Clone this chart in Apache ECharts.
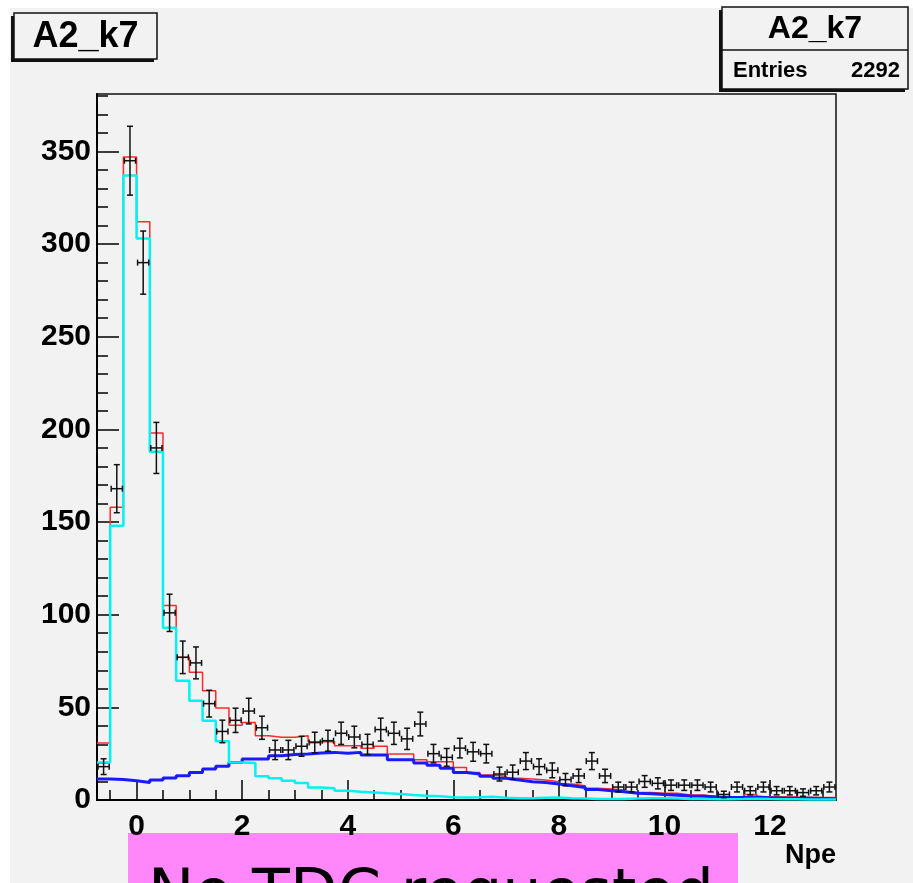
<!DOCTYPE html>
<html><head><meta charset="utf-8">
<script src="https://cdn.jsdelivr.net/npm/echarts@6/dist/echarts.min.js"></script>
<style>html,body{margin:0;padding:0;background:#fff}#c{width:913px;height:883px}</style>
</head><body><div id="c"></div>
<script>
// Bin centers (Npe), bin width 0.25
const binCenters = [-0.625,-0.375,-0.125,0.125,0.375,0.625,0.875,1.125,1.375,1.625,1.875,2.125,2.375,2.625,2.875,3.125,3.375,3.625,3.875,4.125,4.375,4.625,4.875,5.125,5.375,5.625,5.875,6.125,6.375,6.625,6.875,7.125,7.375,7.625,7.875,8.125,8.375,8.625,8.875,9.125,9.375,9.625,9.875,10.125,10.375,10.625,10.875,11.125,11.375,11.625,11.875,12.125,12.375,12.625,12.875,13.125];
// Measured entries per bin (black points)
const dataCounts = [18,168,345,290,190,101,77,74,52,37,43,48,39,27,27,29,31,32,36,34,30,38,36,33,41,25,23,28,26,25,14,15,21,18,16,11,13,21,13,7,7,10,9,8,8,8,7,3,7,5,7,5,5,4,5,7];
// Total fit (red)
const totalFit = [30.7,158,347,312,198,105,77,69,59,49.6,40.3,41.8,34.7,33.8,33.8,34.7,31.5,31.5,29.3,29.3,27.9,29,24.8,24.8,21.7,20.6,20.6,17.6,14.9,13.5,12.8,11.7,11.3,10.8,9.9,8.6,7.7,6.3,5.9,5.4,4.1,4.1,3.6,3.6,2.7,2.7,1.8,1.8,1.8,3.0,1.8,1.8,1.6,1.5,1.4,1.3];
// Pedestal / single component (cyan)
const peakFit = [20.3,148,337,303,188,93,64.4,53.6,42.8,31.7,20.3,20,12.8,11.7,10.4,9.2,6.8,6.3,5,4.5,4.1,3.6,3.2,2.7,2.3,2,1.5,1.4,1.5,1.8,1.2,1,1,1.2,1.4,1,0.8,0.6,0.5,0.6,0.8,1,1,0.8,0.6,0.5,0.4,0.4,0.5,0.7,0.5,0.4,0.4,0.3,0.3,0.3];
// Broad component (blue)
const broadFit = [11.3,11,10.4,9.5,10.8,11.9,13.1,14.9,16.7,18.2,20.3,22.1,22.1,23.9,24.5,24.8,25.3,25.7,25.2,25.7,24.3,24.3,21.7,21.7,20,18.7,17.1,14.9,14,12.8,11.7,10.8,9.9,9.5,8.6,7.7,6.8,5.6,5,4.5,3.6,3.4,3,2.5,2.2,2,1.6,1.4,1.3,1.6,1.2,1,1,0.9,0.8,0.7];

const xTickValues = [0,2,4,6,8,10,12];
const xMinorTickValues = [-0.5,0.5,1,1.5,2.5,3,3.5,4.5,5,5.5,6.5,7,7.5,8.5,9,9.5,10.5,11,11.5,12.5,13];
const yTickValues = [0,50,100,150,200,250,300,350];
const yMinorTickValues = [10,20,30,40,60,70,80,90,110,120,130,140,160,170,180,190,210,220,230,240,260,270,280,290,310,320,330,340,360,370,380];
const xRange = [-0.75, 13.25];
const yRange = [0, 381];

const halfW = (binCenters[1] - binCenters[0]) / 2;
function stepData(vals) {
  const out = vals.map((v, i) => [binCenters[i] - halfW, v]);
  out.push([binCenters[binCenters.length - 1] + halfW, vals[vals.length - 1]]);
  return out;
}
const pointData = dataCounts.map((v, i) => [binCenters[i], v, Math.sqrt(v)]);

const FONT = 'Liberation Sans';
const chart = echarts.init(document.getElementById('c'), null, {renderer: 'canvas'});
const lblStyle = {color: '#000', fontFamily: FONT, fontWeight: 'bold', fontSize: 30};

chart.setOption({
  animation: false,
  backgroundColor: '#f2f2f2',
  grid: {left: 97, top: 94, width: 739, height: 706, show: true, borderColor: '#111', borderWidth: 1.5, backgroundColor: 'transparent'},
  xAxis: [{
    type: 'value', min: xRange[0], max: xRange[1], position: 'bottom',
    axisLine: {show: true, onZero: false, lineStyle: {color: '#000', width: 2}},
    axisTick: {show: true, inside: true, length: 20, customValues: xTickValues, lineStyle: {color: '#000', width: 1.5}},
    axisLabel: Object.assign({show: true, customValues: xTickValues, margin: 12}, lblStyle),
    splitLine: {show: false}
  }, {
    type: 'value', min: xRange[0], max: xRange[1], position: 'bottom', offset: 0,
    axisLine: {show: false, onZero: false},
    axisTick: {show: true, inside: true, length: 10, customValues: xMinorTickValues, lineStyle: {color: '#000', width: 1.5}},
    axisLabel: {show: false}, splitLine: {show: false}
  }],
  yAxis: [{
    type: 'value', min: yRange[0], max: yRange[1], position: 'left',
    axisLine: {show: true, onZero: false, lineStyle: {color: '#000', width: 2}},
    axisTick: {show: true, inside: true, length: 22, customValues: yTickValues, lineStyle: {color: '#000', width: 1.5}},
    axisLabel: Object.assign({show: true, customValues: yTickValues, margin: 6}, lblStyle),
    splitLine: {show: false}
  }, {
    type: 'value', min: yRange[0], max: yRange[1], position: 'left', offset: 0,
    axisLine: {show: false, onZero: false},
    axisTick: {show: true, inside: true, length: 11, customValues: yMinorTickValues, lineStyle: {color: '#000', width: 1.5}},
    axisLabel: {show: false}, splitLine: {show: false}
  }],
  series: [
    {type: 'line', name: 'total', step: 'end', data: stepData(totalFit), showSymbol: false, symbol: 'none',
     lineStyle: {color: '#ff2a2a', width: 1.5}, z: 3, clip: true},
    {type: 'line', name: 'broad', step: 'end', data: stepData(broadFit), showSymbol: false, symbol: 'none',
     lineStyle: {color: '#1a1aff', width: 3}, z: 4, clip: true},
    {type: 'line', name: 'peak', step: 'end', data: stepData(peakFit), showSymbol: false, symbol: 'none',
     lineStyle: {color: '#00f2f2', width: 2.5}, z: 5, clip: true},
    {type: 'custom', name: 'data', data: pointData, z: 6, clip: true,
     renderItem: function (params, api) {
       const x = api.value(0), y = api.value(1), e = api.value(2);
       const c = api.coord([x, y]);
       const t = api.coord([x, y + e]);
       const b = api.coord([x, Math.max(y - e, 0)]);
       const l = api.coord([x - halfW, y]);
       const r = api.coord([x + halfW, y]);
       const st = {stroke: '#111', lineWidth: 1.5, fill: null};
       const line = (x1, y1, x2, y2) => ({type: 'line', shape: {x1, y1, x2, y2}, style: st});
       return {type: 'group', children: [
         line(c[0], t[1], c[0], b[1]),
         line(c[0] - 3, t[1], c[0] + 3, t[1]),
         line(c[0] - 3, b[1], c[0] + 3, b[1]),
         line(l[0] + 1, c[1], r[0] - 1, c[1]),
         line(l[0] + 1, c[1] - 3, l[0] + 1, c[1] + 3),
         line(r[0] - 1, c[1] - 3, r[0] - 1, c[1] + 3)
       ]};
     }}
  ],
  graphic: {elements: [
    {type: 'rect', shape: {x: 0, y: 0, width: 913, height: 8}, style: {fill: '#fff'}, silent: true},
    {type: 'rect', shape: {x: 0, y: 0, width: 10, height: 883}, style: {fill: '#fff'}, silent: true},
    // left title box
    {type: 'rect', shape: {x: 11, y: 16, width: 143, height: 46}, style: {fill: '#111'}, silent: true},
    {type: 'rect', shape: {x: 14, y: 13, width: 143, height: 46}, style: {fill: '#f2f2f2', stroke: '#111', lineWidth: 1.5}, silent: true},
    {type: 'text', x: 85.5, y: 37, style: {text: 'A2_k7', fill: '#000', font: 'bold 36px "Liberation Sans"', align: 'center', verticalAlign: 'middle'}, silent: true},
    // stats box
    {type: 'rect', shape: {x: 719, y: 10, width: 186, height: 82}, style: {fill: '#111'}, silent: true},
    {type: 'rect', shape: {x: 722, y: 7, width: 186, height: 82}, style: {fill: '#f2f2f2', stroke: '#111', lineWidth: 1.5}, silent: true},
    {type: 'line', shape: {x1: 722, y1: 50, x2: 908, y2: 50}, style: {stroke: '#111', lineWidth: 1.5}, silent: true},
    {type: 'text', x: 815, y: 29, style: {text: 'A2_k7', fill: '#000', font: 'bold 32px "Liberation Sans"', align: 'center', verticalAlign: 'middle'}, silent: true},
    {type: 'text', x: 733, y: 71, style: {text: 'Entries', fill: '#000', font: 'bold 22px "Liberation Sans"', align: 'left', verticalAlign: 'middle'}, silent: true},
    {type: 'text', x: 900, y: 71, style: {text: '2292', fill: '#000', font: 'bold 22px "Liberation Sans"', align: 'right', verticalAlign: 'middle'}, silent: true},
    // axis title
    {type: 'text', x: 836, y: 856, style: {text: 'Npe', fill: '#000', font: 'bold 27px "Liberation Sans"', align: 'right', verticalAlign: 'middle'}, silent: true},
    // pink note
    {type: 'rect', shape: {x: 128, y: 833, width: 610, height: 60}, style: {fill: '#ff87fa'}, silent: true},
    {type: 'text', x: 431, y: 897, style: {text: 'No TDC requested', fill: '#000', font: '62px "DejaVu Sans"', align: 'center', verticalAlign: 'middle'}, silent: true}
  ]}
});
</script>
</body></html>
